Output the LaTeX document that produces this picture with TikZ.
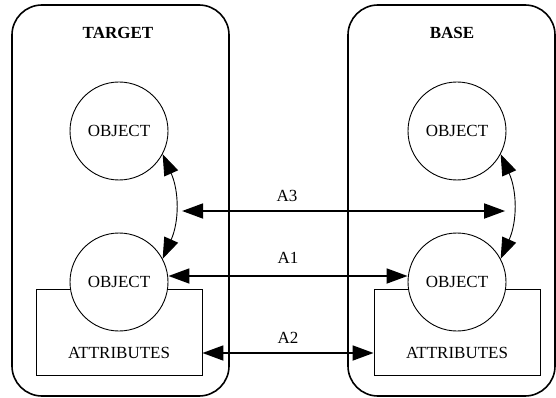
\documentclass[tikz,border=0pt]{standalone}
\usepackage{fontspec}
\setmainfont{Liberation Serif}
\usetikzlibrary{arrows.meta}

\begin{document}
\begin{tikzpicture}[x=1pt,y=-1pt,>={Triangle[length=21pt,width=15pt]},
  every node/.style={font=\fontsize{17}{20}\selectfont},
  panel/.style={draw,line width=1.6pt,rounded corners=30pt},
  title/.style={font=\fontsize{17}{20}\selectfont\bfseries},
  obj/.style={circle,draw,line width=.9pt,fill=white,minimum size=98pt,inner sep=0pt},
  attr/.style={draw,line width=.9pt,minimum width=166pt,minimum height=86pt},
  bond/.style={<->,line width=.9pt},
  link/.style={<->,line width=1.8pt}]
  \useasboundingbox (0,0) rectangle (556,398);
  % target
  \draw[panel] (12,5) rectangle (229,396);
  \node[title] (target) at (118,33) {TARGET};
  \node[attr] (lattr) at (119,332) {};
  \node (lattrtext) at (119,353) {ATTRIBUTES};
  \node[obj] (ltop) at (119,131) {OBJECT};
  \node[obj] (lbot) at (119,282) {OBJECT};
  \draw[bond] (ltop.-28) to[bend left=24] coordinate[pos=.5] (lmid) (lbot.28);
  % base
  \draw[panel] (348,5) rectangle (555,396);
  \node[title] (base) at (452,33) {BASE};
  \node[attr] (rattr) at (457,332) {};
  \node (rattrtext) at (457,353) {ATTRIBUTES};
  \node[obj] (rtop) at (457,131) {OBJECT};
  \node[obj] (rbot) at (457,282) {OBJECT};
  \draw[bond] (rtop.-28) to[bend left=24] coordinate[pos=.5] (rmid) (rbot.28);
  % analogies
  \coordinate (a3y) at (0,211);
  \draw[link] (lmid |- a3y) ++(7,0) -- ([xshift=-8pt]rmid |- a3y) node[pos=.325,above=5pt]{A3};
  \draw[link] ([yshift=6pt]lbot.east) -- ([yshift=6pt]rbot.west) node[midway,above=8pt]{A1};
  \draw[link] (lattr.east |- lattrtext) -- (rattr.west |- rattrtext) node[midway,above=5pt]{A2};
\end{tikzpicture}
\end{document}
